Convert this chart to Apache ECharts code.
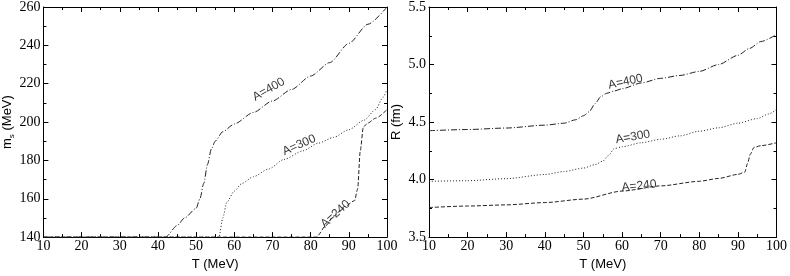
<!DOCTYPE html>
<html>
<head>
<meta charset="utf-8">
<script src="https://cdn.jsdelivr.net/npm/echarts@6/dist/echarts.min.js"></script>
<style>html,body{margin:0;padding:0;background:#fff}#c{width:790px;height:276px}</style>
</head>
<body>
<div id="c"></div>
<script>
// ---- Left panel: strange quark mass m_s vs T ----
const tL400 = [10, 20, 30, 42, 45, 47, 50, 51, 52, 53, 54, 55, 57, 60, 65, 70, 75, 80, 85, 90, 95, 100];
const ms400 = [140, 140, 140, 140, 146, 150, 155, 160, 168, 178, 186, 190, 195, 199, 205, 211, 217, 224, 231, 241, 251, 260];
const tL300 = [10, 30, 50, 56, 57, 58, 60, 62, 65, 69, 73, 78, 82, 86, 90, 94, 97, 99, 100];
const ms300 = [140, 140, 140, 140, 150, 158, 164, 168, 171.5, 175.5, 180.5, 185, 189, 192, 196, 201, 206.5, 213, 217];
const tL240 = [10, 30, 50, 70, 81.5, 84, 86, 89, 91.5, 92.3, 93, 93.8, 95, 97, 100];
const ms240 = [140, 140, 140, 140, 140, 146, 151, 156, 159, 165, 185, 197.5, 199.5, 202, 206.5];

// ---- Right panel: radius R vs T ----
const tR400 = [10, 20, 30, 40, 45, 48, 50, 51.5, 53, 54.5, 56, 58, 60, 65, 70, 75, 80, 85, 90, 93, 96, 100];
const r400 = [4.425, 4.435, 4.448, 4.473, 4.49, 4.52, 4.555, 4.59, 4.66, 4.72, 4.75, 4.77, 4.79, 4.84, 4.88, 4.905, 4.94, 5.00, 5.08, 5.14, 5.20, 5.26];
const tR300 = [10, 20, 30, 40, 45, 50, 53, 55, 56.5, 58, 60, 65, 70, 75, 80, 85, 90, 95, 98, 100];
const r300 = [3.985, 3.99, 4.008, 4.044, 4.07, 4.10, 4.13, 4.16, 4.21, 4.27, 4.285, 4.32, 4.35, 4.38, 4.42, 4.45, 4.49, 4.53, 4.57, 4.61];
const tR240 = [10, 20, 30, 40, 50, 60, 70, 80, 85, 90, 91.8, 92.5, 93.2, 94.2, 96, 100];
const r240 = [3.757, 3.77, 3.78, 3.80, 3.83, 3.90, 3.945, 3.985, 4.01, 4.045, 4.065, 4.14, 4.22, 4.28, 4.295, 4.32];

// ---- Curve labels (text, T, value, angle) ----
const labelsLeft = [["A=400", 69, 217, 30], ["A=300", 77, 188, 24], ["A=240", 86.5, 152, 42]];
const labelsRight = [["A=400", 60.9, 4.85, 12], ["A=300", 62.8, 4.37, 10], ["A=240", 64.4, 3.945, 6]];

const xTicks = { min: 10, max: 100, interval: 10 };
const yTicksL = { min: 140, max: 260, interval: 20 };
const yTicksR = { min: 3.5, max: 5.5, interval: 0.5 };

const zip = (a, b) => a.map((v, i) => [v, b[i]]);
const serif = 'Liberation Serif';
const sans = 'Liberation Sans';
const AX = { lineStyle: { color: '#000', width: 1 } };

function xAx(grid, pos, showLabel, name) {
  return Object.assign({
    type: 'value', gridIndex: grid, position: pos,
    axisLine: AX, splitLine: { show: false },
    axisTick: { inside: true, length: 5, lineStyle: { color: '#000' } },
    minorTick: { show: true, splitNumber: 2, length: 3, lineStyle: { color: '#000' } },
    axisLabel: { show: showLabel, fontFamily: serif, fontSize: 14, color: '#000', margin: 2 },
    name: name || '', nameLocation: 'middle', nameGap: 13,
    nameTextStyle: { fontFamily: sans, fontSize: 13, color: '#000' }
  }, xTicks);
}
function yAx(grid, pos, showLabel, ticks, fmt, name, gap) {
  return Object.assign({
    type: 'value', gridIndex: grid, position: pos,
    axisLine: AX, splitLine: { show: false },
    axisTick: { inside: true, length: 5, lineStyle: { color: '#000' } },
    minorTick: { show: true, splitNumber: 2, length: 3, lineStyle: { color: '#000' } },
    axisLabel: { show: showLabel, fontFamily: serif, fontSize: 14, color: '#000', margin: 3, formatter: fmt },
    name: name || '', nameLocation: 'middle', nameGap: gap || 0,
    nameTextStyle: {
      fontFamily: sans, fontSize: 13, color: '#000',
      rich: { n: { fontFamily: sans, fontSize: 13 }, s: { fontFamily: sans, fontSize: 8, verticalAlign: 'bottom', padding: [8, 0, 0, 0] } }
    }
  }, ticks);
}

function line(xi, yi, data, dash) {
  return {
    type: 'line', xAxisIndex: xi, yAxisIndex: yi, data: data, symbol: 'none',
    smooth: 0.25, smoothMonotone: 'x',
    lineStyle: { color: '#222', width: 1, type: dash }, silent: true
  };
}
function labels(xi, yi, arr) {
  return {
    type: 'scatter', xAxisIndex: xi, yAxisIndex: yi, symbolSize: 1,
    itemStyle: { color: 'transparent' }, silent: true,
    data: arr.map(a => ({ value: [a[1], a[2]], label: { rotate: a[3], formatter: a[0] } })),
    label: { show: true, position: 'inside', fontFamily: sans, fontSize: 12, color: '#000' }
  };
}

const chart = echarts.init(document.getElementById('c'), null, { renderer: 'canvas' });
chart.setOption({
  animation: false,
  backgroundColor: '#fff',
  grid: [
    { left: 35, right: 403, top: 5, bottom: 32 },
    { left: 429, right: 8, top: 5, bottom: 32 }
  ],
  xAxis: [
    xAx(0, 'bottom', true, 'T (MeV)'), xAx(0, 'top', false),
    xAx(1, 'bottom', true, 'T (MeV)'), xAx(1, 'top', false)
  ],
  yAxis: [
    yAx(0, 'left', true, yTicksL, v => String(v), '{n|m}{s|s}{n| (MeV)}', 22), yAx(0, 'right', false, yTicksL),
    yAx(1, 'left', true, yTicksR, v => v.toFixed(1), 'R (fm)', 26), yAx(1, 'right', false, yTicksR)
  ],
  series: [
    line(0, 0, zip(tL400, ms400), [6, 2, 1, 2]),
    line(0, 0, zip(tL300, ms300), [1, 2]),
    line(0, 0, zip(tL240, ms240), [4, 2]),
    line(2, 2, zip(tR400, r400), [6, 2, 1, 2]),
    line(2, 2, zip(tR300, r300), [1, 2]),
    line(2, 2, zip(tR240, r240), [4, 2]),
    labels(0, 0, labelsLeft),
    labels(2, 2, labelsRight)
  ]
});
</script>
</body>
</html>
